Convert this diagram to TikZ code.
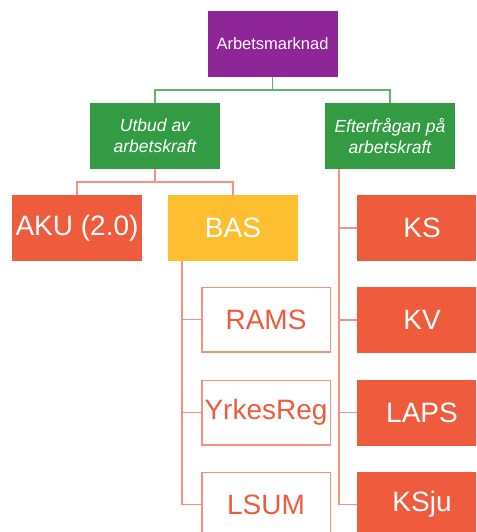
\documentclass[tikz,border=0pt]{standalone}
\usepackage{fontspec}
\setmainfont{Liberation Sans}
\definecolor{cpurple}{HTML}{8E2698}
\definecolor{cgreen}{HTML}{329B43}
\definecolor{cred}{HTML}{EF5B3D}
\definecolor{cyellow}{HTML}{FDBE30}
\definecolor{lgreen}{HTML}{5DB86B}
\definecolor{lred}{HTML}{F6937E}
\tikzset{
  box/.style={minimum width=130pt, minimum height=66pt, inner sep=0pt, align=center, text=white},
  topbox/.style={box, fill=cpurple, font=\fontsize{16.5}{19}\selectfont},
  midbox/.style={box, fill=cgreen, font=\fontsize{17.5}{21}\selectfont\itshape},
  redbox/.style={box, fill=cred, font=\fontsize{28}{32}\selectfont},
  yelbox/.style={box, fill=cyellow, font=\fontsize{28}{32}\selectfont},
  whitebox/.style={box, fill=white, draw=lred, line width=1.5pt, minimum width=128.5pt, minimum height=64.5pt, text=cred, font=\fontsize{28}{32}\selectfont},
  gline/.style={draw=lgreen, line width=1.5pt},
  rline/.style={draw=lred, line width=1.5pt},
}
\begin{document}
\begin{tikzpicture}[x=1pt,y=-1pt]
\useasboundingbox (0,0) rectangle (476,532);
\clip (0,0) rectangle (476,532);
\node[topbox] (top) at (272.5,44) {Arbetsmarknad};
\node[midbox] (utb) at (155,136) {Utbud av\\arbetskraft};
\node[midbox] (eft) at (390,136) {Efterfrågan på\\arbetskraft};
\node[redbox] (aku) at (77,228) {AKU (2.0)};
\node[yelbox] (bas) at (233,228) {BAS};
\node[whitebox] (rams) at (266,319.5) {RAMS};
\node[whitebox] (yrk) at (266,412.5) {YrkesReg};
\node[whitebox] (lsum) at (266,504.5) {LSUM};
\node[redbox] (ks) at (422,228) {KS};
\node[redbox] (kv) at (422,320) {KV};
\node[redbox] (laps) at (422,412.5) {LAPS};
\node[redbox] (ksju) at (422,504.5) {KSju};
\draw[gline] (top.south) -- ++(0,13) -| (utb.north);
\draw[gline] (top.south) -- ++(0,13) -| (eft.north);
\draw[rline] (utb.south) -- ++(0,13) -| (aku.north);
\draw[rline] (utb.south) -- ++(0,13) -| (bas.north);
\draw[rline] ([xshift=14pt]bas.south west) |- (rams.west);
\draw[rline] ([xshift=14pt]bas.south west) |- (yrk.west);
\draw[rline] ([xshift=14pt]bas.south west) |- (lsum.west);
\draw[rline] ([xshift=14pt]eft.south west) |- (ks.west);
\draw[rline] ([xshift=14pt]eft.south west) |- (kv.west);
\draw[rline] ([xshift=14pt]eft.south west) |- (laps.west);
\draw[rline] ([xshift=14pt]eft.south west) |- (ksju.west);
\end{tikzpicture}
\end{document}
